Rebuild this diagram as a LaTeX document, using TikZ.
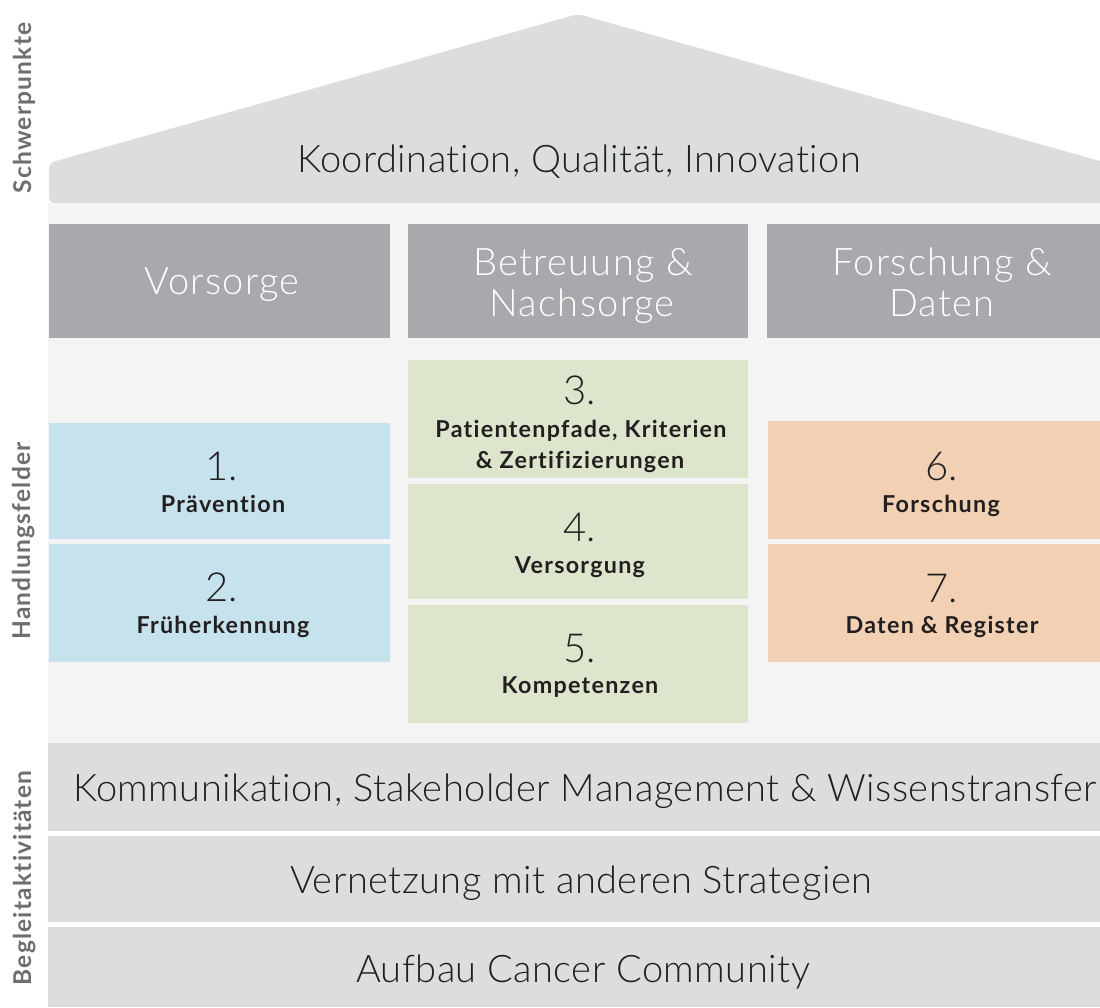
\documentclass[tikz,border=0pt]{standalone}
\usepackage{fontspec}
\setmainfont{Lato}[Ligatures=NoCommon]
\newfontfamily\lightf{Lato Light}[Ligatures=NoCommon]
\newfontfamily\lightwide{Lato Light}[Ligatures=NoCommon,LetterSpace=1.2]
\newfontfamily\lighthdr{Lato Light}[Ligatures=NoCommon,LetterSpace=3.5]
\newfontfamily\boldlbl{Lato Bold}[Ligatures=NoCommon,LetterSpace=5.5]
\newfontfamily\boldside{Lato Bold}[Ligatures=NoCommon,LetterSpace=5]
\definecolor{roofgray}{HTML}{DCDDDF}
\definecolor{hdrgray}{HTML}{A7A9AC}
\definecolor{bglight}{HTML}{F4F4F4}
\definecolor{bluebox}{HTML}{C6E3ED}
\definecolor{greenbox}{HTML}{DDE6CD}
\definecolor{orangebox}{HTML}{F1D0B4}
\definecolor{txtdark}{HTML}{231F20}
\definecolor{sidegray}{HTML}{6D6E71}
\tikzset{
  lighttxt/.style={inner sep=0, text=txtdark, font=\lightwide\fontsize{38}{42}\selectfont},
  hdrtxt/.style={inner sep=0, text=white, font=\lighthdr\fontsize{38}{42}\selectfont},
  numtxt/.style={inner sep=0, text=txtdark, font=\lightf\fontsize{40}{44}\selectfont},
  lbltxt/.style={inner sep=0, text=txtdark, font=\boldlbl\fontsize{23.3}{26}\selectfont},
  bandtxt/.style={inner sep=0, text=txtdark, font=\lightwide\fontsize{38}{42}\selectfont},
  sidetxt/.style={inner sep=0, text=sidegray, rotate=90, font=\boldside\fontsize{24.5}{26}\selectfont},
}
\begin{document}
\begin{tikzpicture}[x=1pt,y=-1pt]
\useasboundingbox (0,0) rectangle (1100,1007);
\clip (0,0) rectangle (1100,1007);
\fill[white] (0,0) rectangle (1100,1007);
% light background of the house body
\fill[bglight] (48,203) rectangle (1110,743);
% roof
\fill[roofgray, rounded corners=6pt] (49,203) -- (49,163) -- (578,14) -- (1107,163) -- (1107,203) -- cycle;
\node[lighttxt, anchor=base] (roof) at (579,172) {Koordination, Qualität, Innovation};
% column headers
\fill[hdrgray] (49,224) rectangle (390,338);
\fill[hdrgray] (408,224) rectangle (748,338);
\fill[hdrgray] (767,224) rectangle (1107,338);
\node[hdrtxt, anchor=base] (h1) at (222,294) {Vorsorge};
\node[hdrtxt, anchor=base] (h2a) at (583,275) {Betreuung \&};
\node[hdrtxt, anchor=base] (h2b) at (582,316) {Nachsorge};
\node[hdrtxt, anchor=base] (h3a) at (942,275) {Forschung \&};
\node[hdrtxt, anchor=base] (h3b) at (942,316) {Daten};
% blue boxes
\fill[bluebox] (49,423) rectangle (390,539);
\fill[bluebox] (49,544) rectangle (390,662);
\node[numtxt, anchor=base] (n1) at (222,480) {1.};
\node[lbltxt, anchor=base] (l1) at (223,512) {Prävention};
\node[numtxt, anchor=base] (n2) at (222,601) {2.};
\node[lbltxt, anchor=base] (l2) at (223,633) {Früherkennung};
% green boxes
\fill[greenbox] (408,360) rectangle (748,478);
\fill[greenbox] (408,484) rectangle (748,599);
\fill[greenbox] (408,605) rectangle (748,723);
\node[numtxt, anchor=base] (n3) at (580,404) {3.};
\node[lbltxt, anchor=base] (l3a) at (581,437) {Patientenpfade, Kriterien};
\node[lbltxt, anchor=base] (l3b) at (580,468) {\& Zertifizierungen};
\node[numtxt, anchor=base] (n4) at (580,541) {4.};
\node[lbltxt, anchor=base] (l4) at (580,573) {Versorgung};
\node[numtxt, anchor=base] (n5) at (580,662) {5.};
\node[lbltxt, anchor=base] (l5) at (580,693) {Kompetenzen};
% orange boxes
\fill[orangebox] (768,421) rectangle (1107,539);
\fill[orangebox] (768,544) rectangle (1107,662);
\node[numtxt, anchor=base] (n6) at (942,480) {6.};
\node[lbltxt, anchor=base] (l6) at (941,512) {Forschung};
\node[numtxt, anchor=base] (n7) at (942,602) {7.};
\node[lbltxt, anchor=base] (l7) at (942,633) {Daten \& Register};
% bottom bands
\fill[roofgray] (48,743) rectangle (1107,831);
\fill[roofgray] (48,836) rectangle (1107,922);
\fill[roofgray] (48,927) rectangle (1107,1007);
\node[bandtxt, anchor=base] (b1) at (585,801) {Kommunikation, Stakeholder Management \& Wissenstransfer};
\node[bandtxt, anchor=base] (b2) at (581,893) {Vernetzung mit anderen Strategien};
\node[bandtxt, anchor=base] (b3) at (583,982) {Aufbau Cancer Community};
% side labels
\node[sidetxt, anchor=base] (s1) at (31,108) {Schwerpunkte};
\node[sidetxt, anchor=base] (s2) at (30,541) {Handlungsfelder};
\node[sidetxt, anchor=base] (s3) at (31,878) {Begleitaktivitäten};
\end{tikzpicture}
\end{document}
